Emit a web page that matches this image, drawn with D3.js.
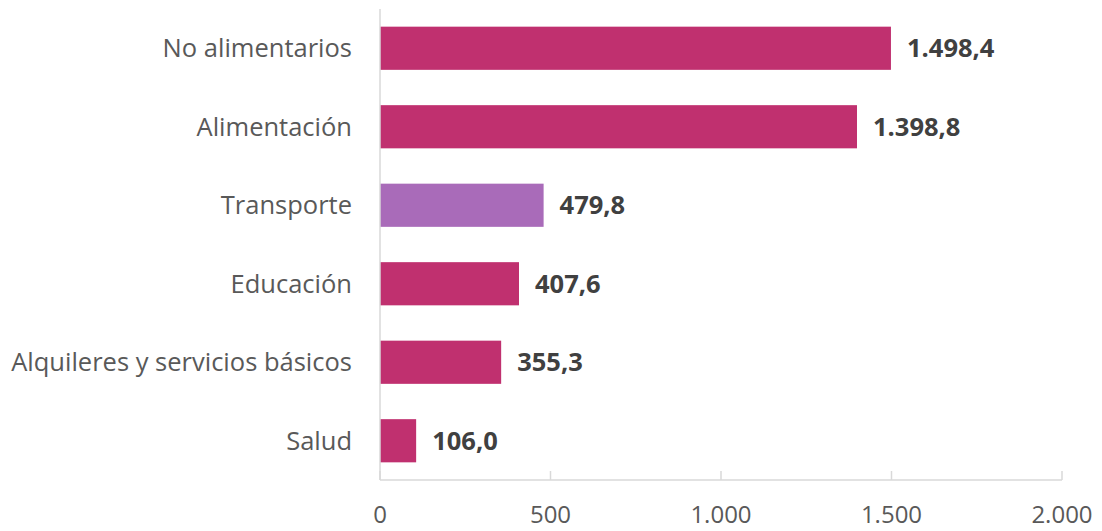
<!DOCTYPE html>
<html>
<head>
<meta charset="utf-8">
<script src="https://cdn.jsdelivr.net/npm/d3@7"></script>
<style>
  body { margin: 0; background: #fff; }
  svg text { font-family: "Open Sans", Lato, sans-serif; }
</style>
</head>
<body>
<div id="chart"></div>
<script>
var categories = ['No alimentarios', 'Alimentación', 'Transporte', 'Educación', 'Alquileres y servicios básicos', 'Salud'];
var values = [1498.4, 1398.8, 479.8, 407.6, 355.3, 106.0];
var highlight = ['Transporte'];
var tickValues = [0, 500, 1000, 1500, 2000];

(function drawBars() {
  var W = 1102, H = 531;
  var svg = d3.select('#chart').append('svg')
    .attr('width', W).attr('height', H);

  var x = d3.scaleLinear().domain([0, 2000]).range([380, 1062]);
  var y = d3.scaleBand().domain(categories).range([9, 480])
    .paddingInner(0.45).paddingOuter(0.225);

  var fmt = d3.formatLocale({ decimal: ',', thousands: '.', grouping: [3], currency: ['', ''] });
  var fmtVal = fmt.format(',.1f');
  var fmtTick = fmt.format(',.0f');

  var data = categories.map(function (c, i) { return { cat: c, val: values[i] }; });

  /* bars */
  svg.selectAll('rect.bar').data(data).enter().append('rect')
    .attr('class', 'bar')
    .attr('x', x(0))
    .attr('y', function (d) { return y(d.cat); })
    .attr('width', function (d) { return x(d.val) - x(0); })
    .attr('height', y.bandwidth())
    .attr('fill', function (d) { return highlight.indexOf(d.cat) >= 0 ? '#a96bb9' : '#c0306f'; });

  /* value labels */
  svg.selectAll('text.val').data(data).enter().append('text')
    .attr('class', 'val')
    .attr('x', function (d) { return x(d.val) + 16; })
    .attr('y', function (d) { return y(d.cat) + y.bandwidth() / 2; })
    .attr('dy', '0.36em')
    .attr('font-size', 25.5)
    .attr('font-weight', 'bold')
    .attr('fill', '#404040')
    .text(function (d) { return fmtVal(d.val); });

  /* category labels */
  svg.selectAll('text.cat').data(categories).enter().append('text')
    .attr('class', 'cat')
    .attr('x', 352)
    .attr('y', function (c) { return y(c) + y.bandwidth() / 2; })
    .attr('dy', '0.36em')
    .attr('text-anchor', 'end')
    .attr('font-size', 25.5)
    .attr('fill', '#595959')
    .text(function (c) { return c; });

  /* axes lines */
  svg.append('line')
    .attr('x1', x(0)).attr('x2', x(0)).attr('y1', 9).attr('y2', 480)
    .attr('stroke', '#d9d9d9').attr('stroke-width', 1.5);
  svg.append('line')
    .attr('x1', x(0)).attr('x2', x(2000)).attr('y1', 480).attr('y2', 480)
    .attr('stroke', '#d9d9d9').attr('stroke-width', 1.5);

  svg.selectAll('line.tick').data(tickValues).enter().append('line')
    .attr('class', 'tick')
    .attr('x1', function (d) { return x(d); }).attr('x2', function (d) { return x(d); })
    .attr('y1', 471).attr('y2', 480)
    .attr('stroke', '#d9d9d9').attr('stroke-width', 1.5);

  svg.selectAll('text.tick').data(tickValues).enter().append('text')
    .attr('class', 'tick')
    .attr('x', function (d) { return x(d); })
    .attr('y', 523)
    .attr('text-anchor', 'middle')
    .attr('font-size', 24)
    .attr('fill', '#595959')
    .text(function (d) { return fmtTick(d); });
}());
</script>
</body>
</html>
